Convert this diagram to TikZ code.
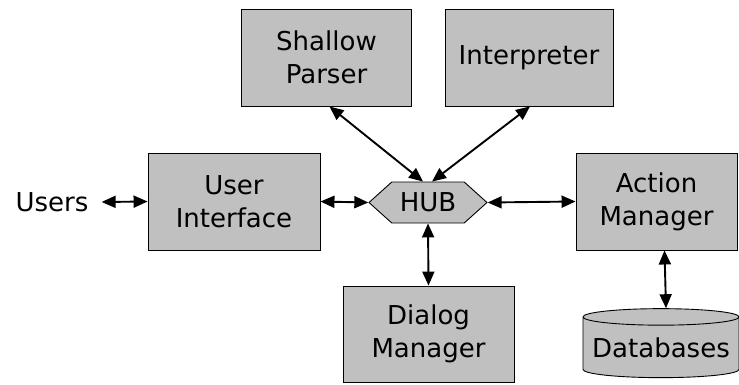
\documentclass[tikz,border=0pt]{standalone}
\usepackage{fontspec}
\setmainfont{DejaVu Sans}
\usetikzlibrary{arrows.meta, shapes.geometric, shapes.symbols}
\definecolor{boxgray}{HTML}{C0C0C0}
\tikzset{
    module/.style={draw=black, fill=boxgray, line width=0.9pt, align=center, inner sep=0pt},
    hubshape/.style={signal, signal to=west and east, signal pointer angle=84, draw=black, fill=boxgray,
        line width=0.9pt, minimum width=118pt, minimum height=41pt, inner sep=0pt},
    store/.style={cylinder, shape border rotate=90, aspect=0.12, draw=black, fill=boxgray,
        line width=0.9pt, minimum width=156pt, minimum height=69pt, inner sep=0pt},
    link/.style={line width=1.9pt, {Triangle[length=14pt, width=12pt]}-{Triangle[length=14pt, width=12pt]}},
    common settings/.style={
        font=\fontsize{26}{33}\selectfont,
        x=1pt, y=-1pt
    }
}

\begin{document}
\begin{tikzpicture}[common settings]

    \useasboundingbox (0,0) rectangle (739,384);

    % Modules round the hub
    \node[module, minimum width=170pt, minimum height=97pt] (parser) at (326.5,57.5) {Shallow\\Parser};
    \node[module, minimum width=168pt, minimum height=97pt] (interp) at (529,57.5) {Interpreter};
    \node[module, minimum width=172pt, minimum height=97pt] (ui) at (234,201.5) {User\\Interface};
    \node[module, minimum width=161pt, minimum height=97pt] (action) at (656.5,201.5) {Action\\Manager};
    \node[module, minimum width=171pt, minimum height=96pt] (dialog) at (428.5,334) {Dialog\\Manager};

    % Hub and outside world
    \node[hubshape] (hub) at (428,202.5) {HUB};
    \node[inner sep=0pt] (users) at (52,202) {Users};
    \node[store] (db) at (661,347.5) {Databases};

    % Connections
    \draw[link] ([xshift=13pt]users.east) -- (ui.west);
    \draw[link] (ui.east) -- (hub.west);
    \draw[link] (hub.east) -- (action.west);
    \draw[link] (hub.south) -- (dialog.north);
    \draw[link] ([xshift=3pt]parser.south) -- ([xshift=-5pt]hub.north);
    \draw[link] ([xshift=1pt]interp.south) -- ([xshift=4pt]hub.north);
    \draw[link] ([xshift=8pt]action.south) -- ([xshift=5pt]db.north);

\end{tikzpicture}
\end{document}
